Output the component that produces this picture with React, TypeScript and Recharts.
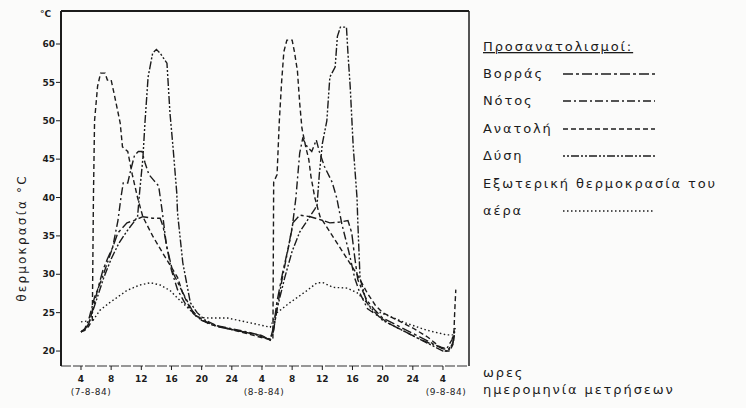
import React from 'react';
import { LineChart, Line, XAxis, YAxis, ReferenceLine } from 'recharts';

// hours are counted from 00:00 of 7-8-84
const hourTicks = [4, 8, 12, 16, 20, 24, 28, 32, 36, 40, 44, 48, 52];
const tempTicks = [20, 25, 30, 35, 40, 45, 50, 55, 60];
const dateTicks = [4, 28, 52];
const dateLabels = ['(7-8-84)', '(8-8-84)', '(9-8-84)'];

const northHours = [4, 4.5, 5, 5.6, 6.2, 6.9, 7.5, 8.2, 8.9, 10.1, 11, 12.2, 13.5, 14.5, 14.9, 15.4, 16.2, 17.5, 18.9, 20, 22, 24, 26, 28, 29.1, 29.5, 30, 30.8, 31.5, 32.1, 33, 34.4, 36.1, 37, 38.3, 39.4, 39.9, 40.3, 40.7, 41.9, 43, 44, 46, 48, 50, 52, 52.7, 53.3, 53.6];
const northTemps = [22.5, 22.8, 23.5, 25.5, 28, 30.5, 32, 33.5, 35.4, 36.7, 37, 37.5, 37.3, 37.3, 36.2, 33.5, 30.2, 27.6, 25, 24, 23.2, 22.8, 22.4, 22, 21.5, 23, 26.5, 30.5, 33.5, 36.7, 37.7, 37.5, 37, 36.7, 36.8, 37, 35.4, 32.2, 29.3, 26.6, 25.3, 24.3, 23.3, 22.3, 21.3, 20.3, 20.2, 21, 22.5];

const southHours = [4, 4.5, 5, 5.8, 6.8, 7.5, 8.2, 8.9, 9.3, 9.6, 10.2, 10.6, 11.1, 11.6, 12.1, 12.5, 13, 13.6, 14.3, 14.8, 15.3, 16, 16.8, 17.8, 19, 20, 22, 24, 26, 28, 29.1, 29.5, 30, 30.6, 31.3, 32, 32.5, 33, 33.4, 34, 34.6, 35.2, 35.6, 36.3, 37.3, 37.9, 38.6, 39.5, 40.3, 41, 42, 43.5, 45, 47, 49, 51, 52.5, 53.2, 53.6];
const southTemps = [22.5, 22.9, 24, 27, 29.5, 31.5, 33.5, 37, 40, 41.9, 41.9, 43.6, 45.5, 46, 46, 44.5, 43, 42.3, 41.5, 38, 34, 30.5, 28, 26.2, 24.8, 24, 23.3, 22.9, 22.5, 22, 21.4, 22.5, 25.5, 29, 32.5, 36, 40, 45.8, 47.7, 46.6, 46, 47.5, 46, 44, 42, 40, 36.5, 33, 29.5, 27.5, 25.5, 24.5, 23.5, 22.5, 21.5, 20.7, 20.3, 21.5, 23];

const eastHours = [4, 4.5, 5, 5.5, 5.65, 5.8, 6.2, 6.6, 7.2, 7.5, 8, 8.4, 9.2, 9.5, 10.2, 10.8, 11.5, 12.2, 13.5, 15, 16.8, 17.5, 18.5, 19.5, 21, 24, 27, 29, 29.45, 29.55, 30, 30.3, 30.6, 30.9, 31.3, 32, 32.3, 32.7, 33, 33.3, 33.8, 34.2, 34.5, 35, 35.7, 38, 40.6, 42, 43, 44, 46, 48, 50, 51, 52.3, 52.9, 53.4, 53.55, 53.7];
const eastTemps = [22.5, 22.7, 23.2, 24, 40, 50, 54.5, 56.2, 56.2, 55.3, 55.3, 53.5, 49.7, 46.6, 46, 43, 40, 37.5, 35, 32.5, 29.6, 27.5, 25.5, 24.5, 23.5, 22.8, 22, 21.5, 21.6, 42, 43, 50, 55, 59, 60.5, 60.5, 59, 56.5, 52.3, 49, 46.6, 45, 42.7, 40, 37.5, 34, 30, 27.5, 26, 25, 24, 23, 21.8, 21, 20, 20, 21, 25, 28];

const westHours = [4, 4.5, 5, 6, 7, 8, 9, 10, 11, 11.5, 11.8, 12.2, 12.5, 12.9, 13.5, 14, 14.5, 15.4, 15.8, 16.2, 16.7, 16.8, 17.5, 18.5, 19.4, 20.5, 22, 24, 27, 29, 29.5, 30, 31, 32, 33, 34, 35, 35.3, 35.6, 36, 36.6, 37, 37.7, 38, 38.4, 39.2, 39.4, 39.7, 40.1, 40.6, 40.7, 41, 41.9, 43, 44, 46, 48, 50, 51, 52, 52.7, 53.3, 53.6];
const westTemps = [22.5, 22.8, 23.5, 26.5, 29.5, 32, 34, 35.5, 36.8, 37.5, 41, 45, 50, 55.7, 58.8, 59.3, 58.8, 57.5, 51, 46.6, 40.6, 38, 31.5, 26.3, 25, 24, 23.3, 22.8, 22.2, 21.5, 22.5, 25.5, 29.5, 33, 35.5, 37, 38.5, 39, 43, 47, 50, 55.7, 57, 61, 62.2, 62.2, 58.8, 54.4, 46.6, 40, 37, 29.5, 26.3, 25, 24, 23, 22, 21, 20.5, 20, 20, 21, 23];

const airHours = [4, 5.6, 6.5, 7.8, 10.1, 11.8, 13.2, 14.5, 15.8, 17.1, 18.5, 19.4, 21, 23.4, 26.8, 29.1, 29.5, 30, 31.7, 34, 35.3, 36.1, 37.4, 39.3, 40.6, 41.9, 42.7, 43.7, 45.5, 47.2, 49.9, 52.5, 53.3, 53.6];
const airTemps = [23.8, 24, 25.3, 26.3, 27.9, 28.6, 28.9, 28.6, 27.9, 26.6, 25.3, 24.4, 24.3, 24.3, 23.6, 23.1, 24, 25, 26.3, 27.9, 28.9, 28.9, 28.3, 28.2, 27.6, 26.3, 25.1, 25, 24.3, 23.6, 22.7, 22.1, 22.1, 22.8];

const toPoints = (hours: number[], temps: number[]) => hours.map((h, i) => ({ h, t: temps[i] }));

const series = [
  { key: 'north', name: 'Βορράς', data: toPoints(northHours, northTemps), dash: '10 3 3 3' },
  { key: 'south', name: 'Νότος', data: toPoints(southHours, southTemps), dash: '8 3 2 3' },
  { key: 'east', name: 'Ανατολή', data: toPoints(eastHours, eastTemps), dash: '5 3' },
  { key: 'west', name: 'Δύση', data: toPoints(westHours, westTemps), dash: '2 2 2 2 8 2' },
  { key: 'air', name: 'αέρα', data: toPoints(airHours, airTemps), dash: '1.5 2.5' },
];

const INK = '#1c1c1c';
const FONT = '"DejaVu Sans", sans-serif';

const HourTick = (props: any) => {
  const { x, y, payload } = props;
  const v = payload.value;
  const label = v % 24 === 0 ? 24 : v % 24;
  const di = dateTicks.indexOf(v);
  const shift = [10, 2, 3];
  return (
    <g>
      <text x={x} y={y + 10} textAnchor="middle" fontSize={9} fontWeight="bold" fill={INK} fontFamily={FONT}>
        {label}
      </text>
      {di >= 0 && (
        <text x={x + shift[di]} y={y + 23} textAnchor="middle" fontSize={9} fill={INK} fontFamily={FONT} letterSpacing={0.5}>
          {dateLabels[di]}
        </text>
      )}
    </g>
  );
};

const legendRows = [74, 101, 129, 156];

const Overlay = () => (
  <svg width={746} height={408} style={{ position: 'absolute', left: 0, top: 0, pointerEvents: 'none' }}>
    <g fontFamily={FONT} fill={INK} fontSize={13} letterSpacing={1.9}>
      <text x={483} y={51} style={{ textDecoration: 'underline' }}>Προσανατολισμοί:</text>
      {series.slice(0, 4).map((s, i) => (
        <g key={s.key}>
          <text x={483} y={legendRows[i] + 4}>{s.name}</text>
          <line x1={563} x2={655} y1={legendRows[i]} y2={legendRows[i]} stroke={INK} strokeWidth={1.3} strokeDasharray={s.dash} />
        </g>
      ))}
      <text x={483} y={188}>Εξωτερική θερμοκρασία του</text>
      <text x={483} y={215}>αέρα</text>
      <line x1={563} x2={655} y1={211} y2={211} stroke={INK} strokeWidth={1.3} strokeDasharray={series[4].dash} />
      <text x={483} y={377}>ωρες</text>
      <text x={483} y={394}>ημερομηνία μετρήσεων</text>
    </g>
    <text x={40} y={17} fontFamily={FONT} fontSize={9} fontWeight="bold" fill={INK}>°C</text>
    <text
      transform="translate(26 238) rotate(-90)"
      textAnchor="middle"
      fontFamily={FONT}
      fontSize={12}
      letterSpacing={2.2}
      fill={INK}
    >
      θερμοκρασία   °C
    </text>
  </svg>
);

export default function App() {
  return (
    <div style={{ position: 'absolute', left: 0, top: 0, width: 746, height: 408, background: '#fbfbfa' }}>
      <LineChart width={746} height={408} margin={{ top: 11, right: 277, bottom: 0, left: 0 }}>
        <XAxis
          dataKey="h"
          type="number"
          domain={[1.35, 55.45]}
          ticks={hourTicks}
          height={42}
          tick={<HourTick />}
          tickSize={4}
          axisLine={{ stroke: '#333', strokeWidth: 1.2, strokeDasharray: '10 2' }}
          tickLine={{ stroke: INK }}
          allowDataOverflow
        />
        <YAxis
          type="number"
          domain={[18.05, 64.3]}
          ticks={tempTicks}
          width={61}
          tickSize={5}
          tickMargin={1}
          tick={{ fontSize: 9, fill: INK, fontWeight: 'bold', fontFamily: FONT }}
          axisLine={{ stroke: INK, strokeWidth: 2 }}
          tickLine={{ stroke: INK }}
          allowDataOverflow
        />
        <ReferenceLine y={64.3} stroke={INK} strokeWidth={2} />
        <ReferenceLine x={55.45} stroke={INK} strokeWidth={1.5} />
        {series.map((s) => (
          <Line
            key={s.key}
            data={s.data}
            dataKey="t"
            name={s.name}
            type="linear"
            stroke={INK}
            strokeWidth={1.4}
            strokeDasharray={s.dash}
            dot={false}
            activeDot={false}
            isAnimationActive={false}
          />
        ))}
      </LineChart>
      <Overlay />
    </div>
  );
}
